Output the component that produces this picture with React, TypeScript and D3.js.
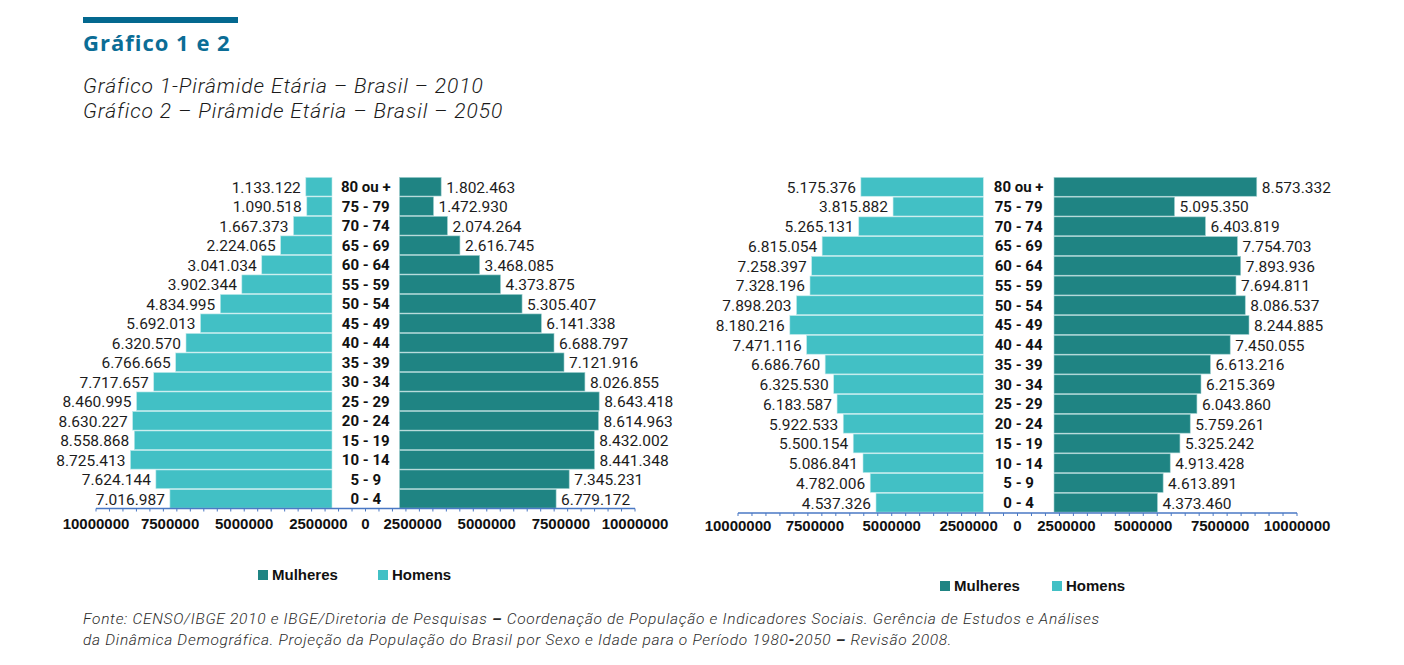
import React from "react";
import * as d3 from "d3";

const categories = ["80 ou +", "75 - 79", "70 - 74", "65 - 69", "60 - 64", "55 - 59", "50 - 54", "45 - 49", "40 - 44", "35 - 39", "30 - 34", "25 - 29", "20 - 24", "15 - 19", "10 - 14", "5 - 9", "0 - 4"];

const homens2010 = [1133122, 1090518, 1667373, 2224065, 3041034, 3902344, 4834995, 5692013, 6320570, 6766665, 7717657, 8460995, 8630227, 8558868, 8725413, 7624144, 7016987];
const mulheres2010 = [1802463, 1472930, 2074264, 2616745, 3468085, 4373875, 5305407, 6141338, 6688797, 7121916, 8026855, 8643418, 8614963, 8432002, 8441348, 7345231, 6779172];

const homens2050 = [5175376, 3815882, 5265131, 6815054, 7258397, 7328196, 7898203, 8180216, 7471116, 6686760, 6325530, 6183587, 5922533, 5500154, 5086841, 4782006, 4537326];
const mulheres2050 = [8573332, 5095350, 6403819, 7754703, 7893936, 7694811, 8086537, 8244885, 7450055, 6613216, 6215369, 6043860, 5759261, 5325242, 4913428, 4613891, 4373460];

const axisTickValues = [-10000000, -7500000, -5000000, -2500000, 0, 2500000, 5000000, 7500000, 10000000];
const axisMax = 10000000;
const minorStep = 500000;

const seriesNames = ["Mulheres", "Homens"];

const COLOR_M = "#1f8483";
const COLOR_H = "#42c0c5";
const AXIS_COLOR = "#4a78c4";

const locale = d3.formatLocale({ decimal: ",", thousands: ".", grouping: [3], currency: ["R$", ""] });
const fmt = locale.format(",d");

type PyrProps = {
  homens: number[];
  mulheres: number[];
  leftOrigin: number;
  rightOrigin: number;
  barMaxPx: number;
  top: number;
  bottom: number;
  axisY: number;
  axisLeft: number;
  axisRight: number;
  axisLabelY: number;
  legendX: number;
  legendY: number;
  legendStep: number;
};

function Pyramid(p: PyrProps) {
  const y = d3.scaleBand<string>().domain(categories).range([p.top, p.bottom]).paddingInner(0.045).paddingOuter(0.02);
  const w = d3.scaleLinear().domain([0, axisMax]).range([0, p.barMaxPx]);
  const labelCenter = (p.leftOrigin + p.rightOrigin) / 2;
  const axisCenter = (p.axisLeft + p.axisRight) / 2;
  const half = (p.axisRight - p.axisLeft) / 2;
  const gap = half * 0.175;
  const tickScale = d3.scaleLinear().domain([-axisMax, axisMax]).range([p.axisLeft, p.axisRight]);
  const labelScale = d3
    .scaleLinear()
    .domain([-axisMax, -2500000, 0, 2500000, axisMax])
    .range([p.axisLeft, axisCenter - gap, axisCenter, axisCenter + gap, p.axisRight]);
  const minorTicks = d3.range(-axisMax, axisMax + 1, minorStep);
  const valueFont = { fontFamily: "Roboto, 'Open Sans', sans-serif", fontSize: 15.5, fill: "#1c1c1c" } as const;

  return (
    <g>
      {categories.map((c, i) => {
        const by = y(c)!;
        const bh = y.bandwidth();
        const wh = w(p.homens[i]);
        const wm = w(p.mulheres[i]);
        return (
          <g key={c}>
            <rect x={p.leftOrigin - wh} y={by} width={wh} height={bh} fill={COLOR_H} stroke="#bfe9eb" strokeWidth={0.6} />
            <rect x={p.rightOrigin} y={by} width={wm} height={bh} fill={COLOR_M} stroke="#9fcfcf" strokeWidth={0.6} />
            <text x={p.leftOrigin - wh - 5} y={by + bh / 2} dy="0.38em" textAnchor="end" {...valueFont}>
              {fmt(p.homens[i])}
            </text>
            <text x={p.rightOrigin + wm + 5} y={by + bh / 2} dy="0.38em" textAnchor="start" {...valueFont}>
              {fmt(p.mulheres[i])}
            </text>
            <text
              x={labelCenter}
              y={by + bh / 2}
              dy="0.36em"
              textAnchor="middle"
              fontFamily="Roboto, 'Liberation Sans', sans-serif"
              fontWeight={700}
              fontSize={15}
              fill="#111"
            >
              {c}
            </text>
          </g>
        );
      })}
      <line x1={p.axisLeft} x2={p.axisRight} y1={p.axisY} y2={p.axisY} stroke={AXIS_COLOR} strokeWidth={1.6} />
      {minorTicks.map((t) => (
        <line key={t} x1={tickScale(t)} x2={tickScale(t)} y1={p.axisY} y2={p.axisY + 3} stroke={AXIS_COLOR} strokeWidth={1} />
      ))}
      {axisTickValues.map((t) => (
        <text
          key={t}
          x={labelScale(t)}
          y={p.axisLabelY}
          textAnchor="middle"
          fontFamily="'Liberation Sans', Arial, sans-serif"
          fontWeight={700}
          fontSize={15}
          fill="#111"
        >
          {String(Math.abs(t))}
        </text>
      ))}
      {seriesNames.map((s, i) => {
        const x = p.legendX + i * p.legendStep;
        return (
          <g key={s}>
            <rect x={x} y={p.legendY - 5} width={10} height={10} fill={i === 0 ? COLOR_M : COLOR_H} />
            <text
              x={x + 14}
              y={p.legendY}
              dy="0.36em"
              fontFamily="'Liberation Sans', Arial, sans-serif"
              fontWeight={700}
              fontSize={15}
              fill="#111"
            >
              {s}
            </text>
          </g>
        );
      })}
    </g>
  );
}

export default function App() {
  const subFont = { fontFamily: "Roboto, 'Open Sans', sans-serif", fontStyle: "italic", fontWeight: 300, fontSize: 21, letterSpacing: 0.9, fill: "#1a1a1a" } as const;
  const footFont = { fontFamily: "Roboto, 'Open Sans', sans-serif", fontStyle: "italic", fontWeight: 300, fontSize: 15.5, letterSpacing: 0.7, fill: "#2a2a2a" } as const;
  return (
    <svg width={1404} height={665} style={{ position: "absolute", left: 0, top: 0, background: "#fff" }}>
      <rect x={83} y={17} width={155} height={6} fill="#03688f" />
      <text x={83} y={51} fontFamily="'Open Sans', Roboto, sans-serif" fontWeight={700} fontSize={22} letterSpacing={1} fill="#0b6d96">
        Gráfico 1 e 2
      </text>
      <text x={83} y={93} {...subFont}>
        Gráfico 1-Pirâmide Etária – Brasil – 2010
      </text>
      <text x={83} y={118} {...subFont}>
        Gráfico 2 – Pirâmide Etária – Brasil – 2050
      </text>

      <Pyramid
        homens={homens2010}
        mulheres={mulheres2010}
        leftOrigin={332}
        rightOrigin={399.5}
        barMaxPx={231}
        top={177}
        bottom={508.5}
        axisY={508.5}
        axisLeft={96}
        axisRight={635}
        axisLabelY={529}
        legendX={258}
        legendY={575}
        legendStep={120}
      />
      <Pyramid
        homens={homens2050}
        mulheres={mulheres2050}
        leftOrigin={983.3}
        rightOrigin={1054}
        barMaxPx={236.5}
        top={177}
        bottom={512.5}
        axisY={513}
        axisLeft={738}
        axisRight={1297}
        axisLabelY={531}
        legendX={940}
        legendY={586}
        legendStep={112}
      />

      <text x={83} y={624} {...footFont}>
        Fonte: CENSO/IBGE 2010 e IBGE/Diretoria de Pesquisas <tspan fontWeight={700}>–</tspan> Coordenação de População e Indicadores Sociais. Gerência de Estudos e Análises
      </text>
      <text x={83} y={645} {...footFont}>
        da Dinâmica Demográfica. Projeção da População do Brasil por Sexo e Idade para o Período 1980<tspan fontWeight={700}>-</tspan>2050 <tspan fontWeight={700}>–</tspan> Revisão 2008.
      </text>
    </svg>
  );
}
